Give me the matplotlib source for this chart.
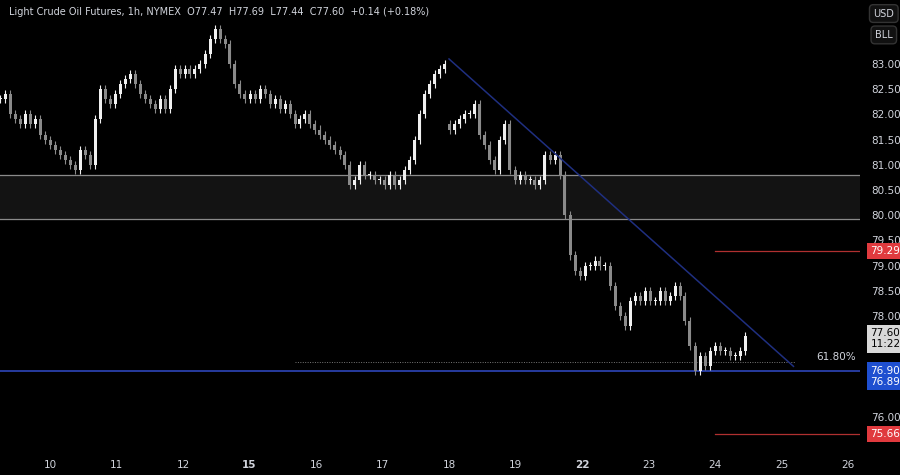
import matplotlib
matplotlib.use("Agg")
import matplotlib.pyplot as plt
import numpy as np

closes = [82.3,82.4,82.0,81.9,81.8,82.0,81.8,81.9,81.6,81.5,81.4,81.3,81.2,81.1,81.0,80.9,81.3,81.2,81.0,81.9,
          82.5,82.3,82.2,82.4,82.6,82.7,82.8,82.6,82.4,82.3,82.2,82.1,82.3,82.1,82.5,82.9,82.8,82.9,82.8,82.9,
          83.0,83.2,83.5,83.7,83.5,83.4,83.0,82.6,82.4,82.3,82.4,82.3,82.5,82.4,82.2,82.3,82.1,82.2,82.0,81.8,
          81.9,82.0,81.8,81.7,81.6,81.5,81.4,81.3,81.2,81.0,80.6,80.7,81.0,80.8,80.8,80.7,80.7,80.6,80.8,80.6,
          80.7,80.9,81.1,81.5,82.0,82.4,82.6,82.8,82.9,83.0,81.7,81.8,81.9,82.0,82.0,82.2,81.6,81.4,81.1,80.9,
          81.5,81.8,80.9,80.7,80.8,80.7,80.7,80.6,80.7,81.2,81.1,81.2,80.8,80.0,79.2,78.9,78.8,79.0,79.0,79.1,
          79.0,79.0,78.6,78.2,78.0,77.8,78.3,78.4,78.3,78.5,78.3,78.3,78.5,78.3,78.4,78.6,78.4,77.9,77.4,76.9,
          77.2,77.0,77.3,77.4,77.3,77.3,77.2,77.2,77.3,77.6]
gap_index = 90
gap_open = 81.8
day_labels = ["10","11","12","15","16","17","18","19","22","23","24","25","26"]
zone = (79.92, 80.80)
support = 76.90
fib_level = 77.09
red_levels = [79.29, 75.66]
trend = [(6.0, 83.1), (11.18, 77.0)]
yticks = [76.0,78.0,78.5,79.0,79.5,80.0,80.5,81.0,81.5,82.0,82.5,83.0]

BG = "black"
fig = plt.figure(figsize=(9, 4.75), dpi=100, facecolor=BG)
ax = fig.add_axes([0, 23/475, 860/900, 452/475], facecolor=BG)
step = 5/66.5
t0 = -50/66.5
xs = t0 + np.arange(len(closes))*step
opens = [closes[0]] + closes[:-1]
opens[gap_index] = gap_open
w = step*0.6
for x, o, c in zip(xs, opens, closes):
    col = "#f0f0f0" if c >= o else "#8a8a8a"
    hi = max(o, c) + 0.08
    lo = min(o, c) - 0.08
    ax.vlines(x, lo, hi, color=col, lw=0.8, zorder=3)
    ax.add_patch(plt.Rectangle((x-w/2, min(o, c)), w, max(abs(c-o), 0.02), color=col, zorder=4, lw=0))

ax.axhspan(zone[0], zone[1], color="#131313", zorder=1)
ax.axhline(zone[0], color="#8a8a8a", lw=0.9, zorder=2)
ax.axhline(zone[1], color="#8a8a8a", lw=0.9, zorder=2)
ax.axhline(support, color="#2d45b8", lw=1.2, zorder=2)
ax.plot([(295-50)/66.5, (795-50)/66.5], [fib_level]*2, color="#777777", lw=0.7, ls=(0, (1, 1.5)), zorder=2)
ax.text((836-50)/66.5, fib_level, "61.80%", color="#d1d4dc", fontsize=7.5, va="bottom", ha="center")
for lv in red_levels:
    ax.plot([(715-50)/66.5, 14], [lv, lv], color="#b03030", lw=0.9, zorder=2)
ax.plot([p[0] for p in trend], [p[1] for p in trend], color="#1f2f80", lw=1.1, zorder=5)

ax.set_xlim(t0, (860-50)/66.5)
ax.set_ylim(75.30, 84.27)
for s in ax.spines.values():
    s.set_visible(False)
ax.set_xticks(range(len(day_labels)))
ax.set_xticklabels(day_labels, color="#d1d4dc", fontsize=7.5)
for lbl, d in zip(ax.get_xticklabels(), day_labels):
    if d in ("15", "22"):
        lbl.set_fontweight("bold")
ax.tick_params(axis="x", length=0, pad=6)
ax.yaxis.tick_right()
ax.set_yticks(yticks)
ax.set_yticklabels([f"{v:.2f}" for v in yticks], color="#d1d4dc", fontsize=7.5)
ax.tick_params(axis="y", length=0, pad=8)

def tag(y, txt, fc, tc="white"):
    ax.text(1.012, y, txt, transform=ax.get_yaxis_transform(), fontsize=7.5, color=tc,
            va="center", ha="left", zorder=10, clip_on=False,
            bbox=dict(boxstyle="square,pad=0.3", fc=fc, ec="none"))
tag(79.29, "79.29", "#e03a3e")
tag(75.66, "75.66", "#e03a3e")
tag(support - 0.1, "76.90\n76.89", "#1e4fd0")
tag(77.55, "77.60\n11:22", "#d8d8d8", tc="black")

fig.text(0.01, 0.985, "Light Crude Oil Futures, 1h, NYMEX  O77.47  H77.69  L77.44  C77.60  +0.14 (+0.18%)",
         color="#d1d4dc", fontsize=7, va="top", ha="left")
for y, s in [(0.982, "USD"), (0.937, "BLL")]:
    fig.text(0.982, y, s, color="#d1d4dc", fontsize=7, va="top", ha="center",
             bbox=dict(boxstyle="round,pad=0.4", fc="#111111", ec="#333333"))
fig.savefig("out.png", dpi=100, facecolor=BG)
